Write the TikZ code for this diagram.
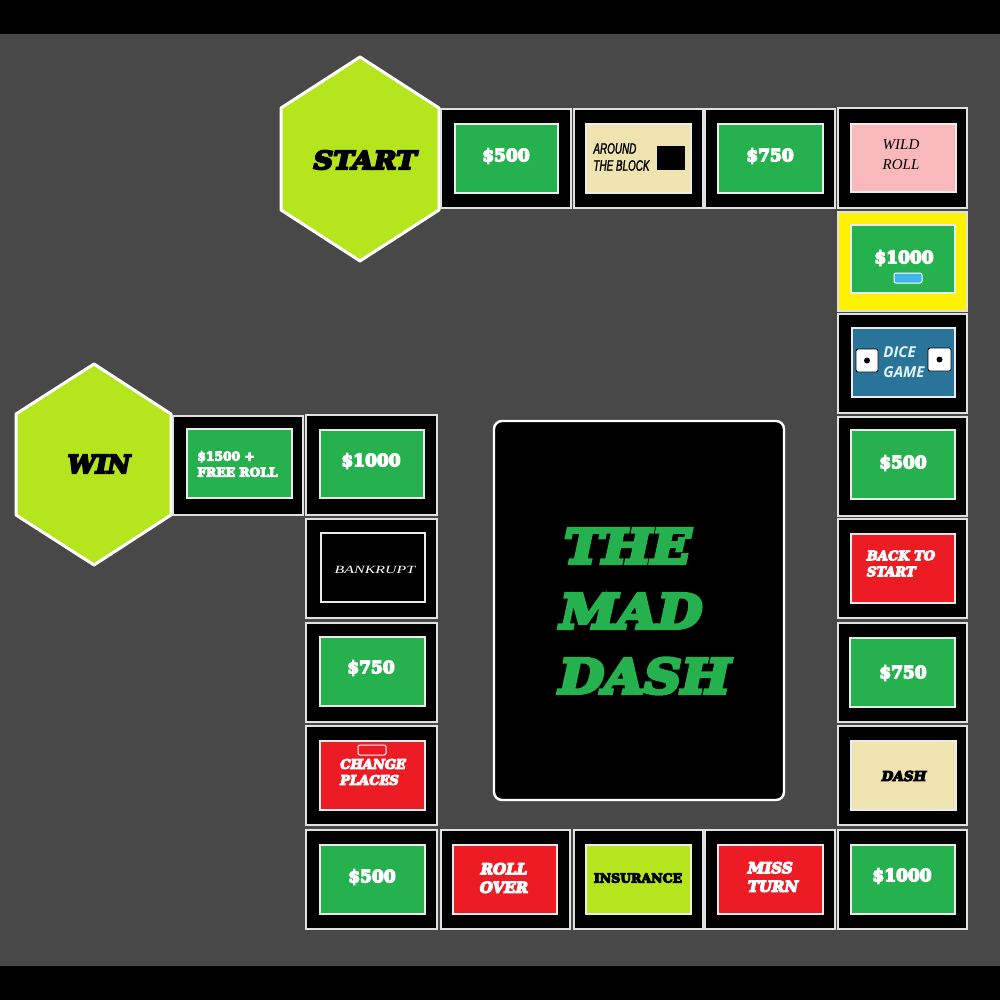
\documentclass[tikz,border=0pt]{standalone}
\usepackage{fontspec}
\setmainfont{DejaVu Serif}
\newfontfamily\heavy[FakeBold=8]{DejaVu Serif Bold}
\newfontfamily\heavyit[FakeBold=8]{DejaVu Serif Bold Italic}
\newfontfamily\heavyitw[FakeBold=8,FakeStretch=1.1]{DejaVu Serif Bold Italic}
\newfontfamily\blockfont[FakeStretch=0.66,FakeBold=1.5]{Liberation Sans}
\newfontfamily\wildfont{Liberation Serif}
\newfontfamily\dicefont{Open Sans}
\newfontfamily\bankfont[FakeStretch=1.45]{Liberation Serif}
\definecolor{bgc}{HTML}{484848}
\definecolor{money}{HTML}{25B24E}
\definecolor{redt}{HTML}{ED1C24}
\definecolor{lime}{HTML}{B5E61D}
\definecolor{cream}{HTML}{EFE4B0}
\definecolor{pinkt}{HTML}{F9B9BC}
\definecolor{bluet}{HTML}{2A7499}
\definecolor{skyt}{HTML}{3DB5EA}
\definecolor{yel}{HTML}{FFF200}
\tikzset{
 x=1pt,y=-1pt,
 tile/.style={draw=white!88!black,line width=1.4pt},
 inner/.style={draw=white!92!black,line width=1.7pt},
 hexa/.style={fill=lime,draw=white,line width=3pt,line join=round},
 lab/.style={inner sep=0pt,align=left,text=white},
 moneyl/.style={lab,font=\heavy\fontsize{17}{20}\selectfont},
 redl/.style={lab,font=\heavyit\fontsize{13}{16}\selectfont},
 die/.style={fill=white,draw=black,line width=0.8pt,rounded corners=2pt},
}
\newcommand{\tilebox}[5]{%
 \fill[#5] (#1,#2) rectangle (#3,#4);
 \draw[tile] (#1,#2) rectangle (#3,#4);
}
\newcommand{\innerbox}[5]{%
 \draw[inner,fill=#5] (#1,#2) rectangle (#3,#4);
}
\begin{document}
\begin{tikzpicture}
\useasboundingbox (0,0) rectangle (1000,1000);
\fill[black] (0,0) rectangle (1000,1000);
\fill[bgc] (0,34) rectangle (1000,966);
% hexagons
\draw[hexa] (360,57)--(439,108)--(439,210)--(360,261)--(281,210)--(281,108)--cycle;
\draw[hexa] (94,364)--(171,414)--(171,515)--(94,565)--(16,515)--(16,414)--cycle;
\node[inner sep=0pt,font=\heavyitw\fontsize{25}{28}\selectfont] (start) at (365,160) {START};
\node[inner sep=0pt,font=\heavyit\fontsize{25}{28}\selectfont] (win) at (99,464) {WIN};
% top row
\tilebox{441}{109}{571}{208}{black}\innerbox{455}{124}{558}{193}{money}
\tilebox{574}{109}{703}{208}{black}\innerbox{586}{124}{691}{193}{cream}
\tilebox{705}{109}{835}{208}{black}\innerbox{718}{124}{823}{193}{money}
\tilebox{838}{108}{967}{208}{black}\innerbox{851}{124}{956}{192}{pinkt}
% right column
\tilebox{838}{212}{967}{311}{yel}\innerbox{851}{225}{955}{293}{money}
\tilebox{838}{314}{967}{413}{black}\innerbox{852}{328}{955}{397}{bluet}
\tilebox{838}{417}{967}{516}{black}\innerbox{851}{430}{955}{499}{money}
\tilebox{838}{519}{967}{618}{black}\innerbox{851}{534}{955}{603}{redt}
\tilebox{838}{623}{967}{722}{black}\innerbox{850}{638}{955}{707}{money}
\tilebox{838}{726}{967}{825}{black}\innerbox{851}{741}{956}{810}{cream}
\tilebox{838}{830}{967}{929}{black}\innerbox{851}{845}{955}{914}{money}
% bottom row
\tilebox{306}{830}{437}{929}{black}\innerbox{320}{845}{425}{914}{money}
\tilebox{441}{830}{570}{929}{black}\innerbox{453}{845}{557}{914}{redt}
\tilebox{574}{830}{703}{929}{black}\innerbox{586}{845}{691}{914}{lime}
\tilebox{705}{830}{835}{929}{black}\innerbox{718}{845}{823}{914}{redt}
% left column
\tilebox{306}{415}{437}{515}{black}\innerbox{320}{430}{424}{498}{money}
\tilebox{306}{519}{437}{618}{black}\innerbox{321}{533}{425}{602}{black}
\tilebox{306}{623}{437}{722}{black}\innerbox{320}{637}{425}{706}{money}
\tilebox{306}{726}{437}{825}{black}\innerbox{320}{741}{425}{810}{redt}
\tilebox{173}{416}{303}{515}{black}\innerbox{187}{429}{292}{498}{money}
% centre
\draw[fill=black,draw=white,line width=2.4pt,rounded corners=8pt] (494,421) rectangle (784,800);
% small details
\fill[black] (657,146) rectangle (685,170);
\draw[fill=skyt,draw=white,line width=1pt,rounded corners=2pt] (894,273) rectangle (922,283);
\draw[draw=white,line width=1pt,rounded corners=2pt,fill=redt] (358,745) rectangle (386,755);
\draw[die] (856,349) rectangle (878,372);
\fill[black] (867,360.5) circle (3);
\draw[die] (928,348) rectangle (951,371);
\fill[black] (939.5,359.5) circle (3);
% labels
\node[moneyl] (t500a) at (506,156) {\$500};
\node[moneyl] (t750a) at (770,156) {\$750};
\node[moneyl] (t1000a) at (904,258) {\$1000};
\node[moneyl] (t500b) at (903,463) {\$500};
\node[moneyl] (t750b) at (903,673) {\$750};
\node[moneyl] (t1000b) at (902,876) {\$1000};
\node[moneyl] (t500c) at (372,877) {\$500};
\node[moneyl] (t750c) at (371,668) {\$750};
\node[moneyl] (t1000c) at (371,461) {\$1000};
\node[lab,text=black,font=\blockfont\itshape\fontsize{15}{17}\selectfont] (block) at (621.5,157) {AROUND\\THE BLOCK};
\node[lab,text=black,font=\wildfont\itshape\fontsize{15}{20}\selectfont,align=center] (wild) at (901,155) {WILD\\ROLL};
\node[lab,text=skyt!15!white,font=\dicefont\itshape\bfseries\fontsize{15}{19.5}\selectfont] (dice) at (904,362) {DICE\\GAME};
\node[redl] (back) at (901,563.5) {BACK TO\\START};
\node[lab,text=black,font=\heavyit\fontsize{13.5}{16}\selectfont] (dash) at (904,776) {DASH};
\node[redl] (change) at (373,772) {CHANGE\\PLACES};
\node[redl,font=\heavyit\fontsize{15}{18.5}\selectfont,align=center] (roll) at (504,878) {ROLL\\OVER};
\node[redl,font=\heavyit\fontsize{15}{18.5}\selectfont] (miss) at (773,877) {MISS\\TURN};
\node[lab,text=black,font=\heavy\fontsize{12.5}{15}\selectfont] (ins) at (638,878) {INSURANCE};
\node[lab,font=\bankfont\itshape\fontsize{11}{13}\selectfont] (bank) at (375,570) {BANKRUPT};
\node[lab,font=\heavy\fontsize{12.3}{16}\selectfont] (free) at (237.5,464) {\$1500 +\\FREE ROLL};
\node[anchor=west,inner sep=0pt,text=money,font=\heavyitw\fontsize{47}{65}\selectfont] (t1) at (564,546) {THE};
\node[anchor=west,inner sep=0pt,text=money,font=\heavyitw\fontsize{47}{65}\selectfont] (t2) at (560,611) {MAD};
\node[anchor=west,inner sep=0pt,text=money,font=\heavyitw\fontsize{47}{65}\selectfont] (t3) at (559,676) {DASH};
\end{tikzpicture}
\end{document}
